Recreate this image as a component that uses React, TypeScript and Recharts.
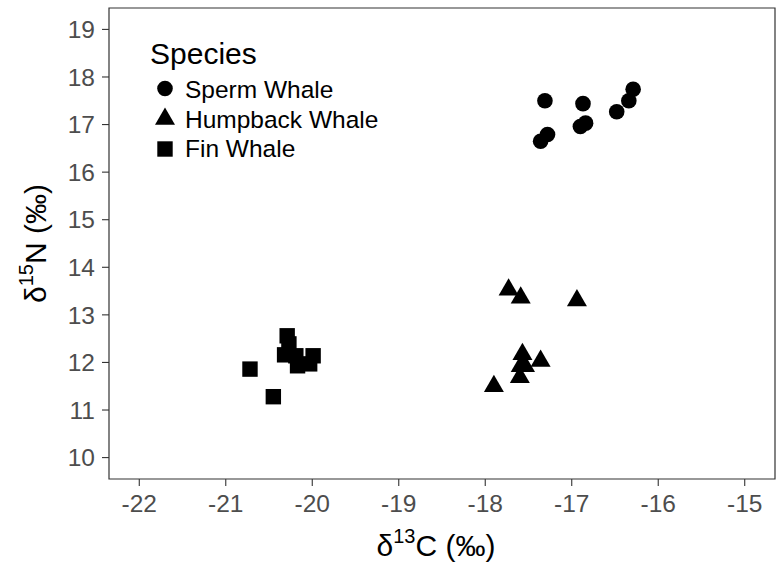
import React from "react";
import { ScatterChart, Scatter, XAxis, YAxis, ReferenceArea } from "recharts";

const spermX = [-17.31, -16.87, -16.9, -16.84, -17.28, -17.36, -16.48, -16.34, -16.29];
const spermY = [17.5, 17.44, 16.96, 17.03, 16.79, 16.65, 17.27, 17.5, 17.74];

const humpbackX = [-17.73, -17.59, -16.94, -17.57, -17.59, -17.54, -17.6, -17.36, -17.9];
const humpbackY = [13.53, 13.36, 13.3, 12.17, 11.92, 11.92, 11.69, 12.03, 11.5];

const finX = [-20.29, -20.27, -20.32, -20.19, -20.17, -20.03, -19.99, -20.72, -20.45];
const finY = [12.56, 12.39, 12.16, 12.14, 11.93, 11.97, 12.14, 11.86, 11.28];

const xTicks = [-22, -21, -20, -19, -18, -17, -16, -15];
const yTicks = [10, 11, 12, 13, 14, 15, 16, 17, 18, 19];
const xDomain: [number, number] = [-22.35, -14.65];
const yDomain: [number, number] = [9.55, 19.45];

const speciesNames = ["Sperm Whale", "Humpback Whale", "Fin Whale"];

const toPoints = (xs: number[], ys: number[]) => xs.map((x, i) => ({ x, y: ys[i] }));
const spermData = toPoints(spermX, spermY);
const humpbackData = toPoints(humpbackX, humpbackY);
const finData = toPoints(finX, finY);

const FONT = '"Liberation Sans", Arial, Helvetica, sans-serif';

const CircleShape = (p: any) => <circle cx={p.cx} cy={p.cy} r={7.8} fill="#000" />;
const TriangleShape = (p: any) => {
  const r = 11.5, xc = 10, yc = 5.75;
  return (
    <polygon
      points={`${p.cx},${p.cy - r} ${p.cx + xc},${p.cy + yc} ${p.cx - xc},${p.cy + yc}`}
      fill="#000"
    />
  );
};
const SquareShape = (p: any) => (
  <rect x={p.cx - 7.7} y={p.cy - 7.7} width={15.4} height={15.4} fill="#000" />
);

const XLabel = (props: any) => {
  const vb = props.viewBox || { x: 109, y: 479, width: 666, height: 95 };
  const cx = vb.x + vb.width / 2 - 6;
  return (
    <text x={cx} y={556} textAnchor="middle" fontFamily={FONT} fontSize={30} fill="#000">
      δ<tspan dy={-13} fontSize={20}>13</tspan>
      <tspan dy={13}>C (‰)</tspan>
    </text>
  );
};

const YLabel = (props: any) => {
  const vb = props.viewBox || { x: 0, y: 8, width: 109, height: 471 };
  const cy = vb.y + vb.height / 2;
  const x = 45.5;
  return (
    <text
      x={x}
      y={cy}
      textAnchor="middle"
      fontFamily={FONT}
      fontSize={30}
      fill="#000"
      transform={`rotate(-90, ${x}, ${cy})`}
    >
      δ<tspan dy={-13} fontSize={20}>15</tspan>
      <tspan dy={13}>N (‰)</tspan>
    </text>
  );
};

const tickStyle = { fill: "#4D4D4D", fontSize: 24.5, fontFamily: FONT };

export default function App() {
  return (
    <div style={{ position: "absolute", left: 0, top: 0, width: 776, height: 574, background: "#fff" }}>
      <ScatterChart width={776} height={574} margin={{ top: 8, right: 1, bottom: 0, left: 0 }}>
        <XAxis
          type="number"
          dataKey="x"
          domain={xDomain}
          ticks={xTicks}
          allowDataOverflow
          height={95}
          axisLine={false}
          tickLine={{ stroke: "#333333", strokeWidth: 1.1 }}
          tickSize={7}
          tickMargin={9}
          tick={tickStyle}
          label={<XLabel />}
        />
        <YAxis
          type="number"
          dataKey="y"
          domain={yDomain}
          ticks={yTicks}
          allowDataOverflow
          width={109}
          axisLine={false}
          tickLine={{ stroke: "#333333", strokeWidth: 1.1 }}
          tickSize={7}
          tickMargin={7}
          tick={tickStyle}
          label={<YLabel />}
        />
        <ReferenceArea
          x1={xDomain[0]}
          x2={xDomain[1]}
          y1={yDomain[0]}
          y2={yDomain[1]}
          fill="none"
          stroke="#333333"
          strokeWidth={1.2}
          ifOverflow="visible"
        />
        <Scatter name={speciesNames[0]} data={spermData} shape={CircleShape} isAnimationActive={false} />
        <Scatter name={speciesNames[1]} data={humpbackData} shape={TriangleShape} isAnimationActive={false} />
        <Scatter name={speciesNames[2]} data={finData} shape={SquareShape} isAnimationActive={false} />
      </ScatterChart>
      <svg
        width={776}
        height={574}
        style={{ position: "absolute", left: 0, top: 0, pointerEvents: "none" }}
      >
        <text x={150} y={64} fontFamily={FONT} fontSize={30} fill="#000">
          Species
        </text>
        <circle cx={165} cy={88.5} r={7.8} fill="#000" />
        <text x={185} y={97.5} fontFamily={FONT} fontSize={24.5} fill="#000">
          {speciesNames[0]}
        </text>
        <polygon points="165,107.5 175,124.8 155,124.8" fill="#000" />
        <text x={185} y={128} fontFamily={FONT} fontSize={24.5} fill="#000">
          {speciesNames[1]}
        </text>
        <rect x={157.3} y={141.3} width={15.4} height={15.4} fill="#000" />
        <text x={185} y={157} fontFamily={FONT} fontSize={24.5} fill="#000">
          {speciesNames[2]}
        </text>
      </svg>
    </div>
  );
}
